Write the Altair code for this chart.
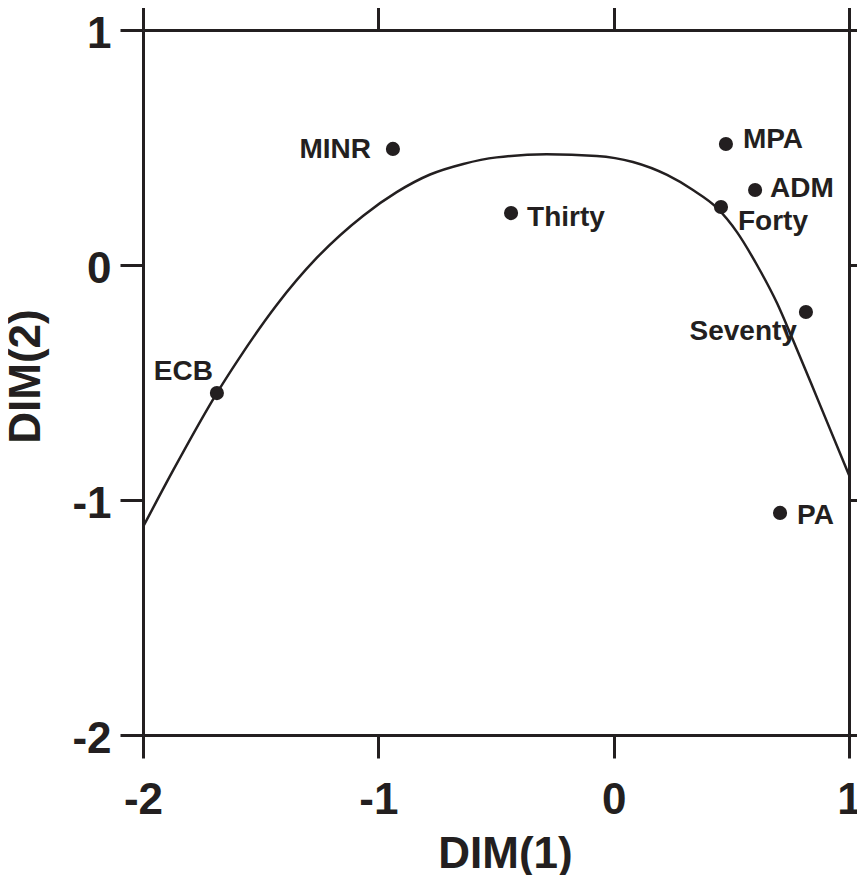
import altair as alt
import pandas as pd

# ---- data ----
names = ["MINR", "Thirty", "ECB", "MPA", "ADM", "Forty", "Seventy", "PA"]
dim1 = [-0.938, -0.436, -1.686, 0.477, 0.601, 0.456, 0.817, 0.707]
dim2 = [0.494, 0.221, -0.545, 0.515, 0.319, 0.247, -0.200, -1.055]

curve_x = [-2.0, -1.871, -1.686, -1.60, -1.432, -1.262, -1.064, -0.922, -0.780,
           -0.639, -0.497, -0.285, -0.072, 0.082, 0.227, 0.337, 0.439, 0.524,
           0.609, 0.694, 0.762, 0.868, 1.0]
curve_y = [-1.115, -0.872, -0.545, -0.41, -0.170, 0.030, 0.210, 0.310, 0.385,
           0.430, 0.458, 0.471, 0.464, 0.438, 0.383, 0.319, 0.243, 0.140,
           0.0, -0.162, -0.319, -0.574, -0.894]

ticks = [-2, -1, 0, 1]

pts = pd.DataFrame({"name": names, "d1": dim1, "d2": dim2})
crv = pd.DataFrame({"d1": curve_x, "d2": curve_y})

INK = "#231f20"
FONT = "Liberation Sans"

xs = alt.Scale(domain=[-2, 1], nice=False, zero=False)
ys = alt.Scale(domain=[-2, 1], nice=False, zero=False)

common_axis = dict(values=ticks, tickSize=23, tickWidth=3, tickColor=INK,
                   domainWidth=3, domainColor=INK, grid=False,
                   labelFont=FONT, labelFontSize=44, labelFontWeight="bold",
                   labelColor=INK, titleFont=FONT, titleFontSize=44,
                   titleFontWeight="bold", titleColor=INK,
                   labelExpr="'' + datum.value")

x_bottom = alt.Axis(orient="bottom", title="DIM(1)", labelPadding=20,
                    titlePadding=10, titleX=362, labelFlush=False, **common_axis)
y_left = alt.Axis(orient="left", title="DIM(2)", labelPadding=9,
                  titlePadding=23, titleY=346, labelOffset=4, labelFlush=False,
                  **common_axis)
x_top = alt.Axis(orient="top", labels=False, title=None, values=ticks,
                 tickSize=23, tickWidth=3, tickColor=INK, domainWidth=3,
                 domainColor=INK, grid=False)
y_right = alt.Axis(orient="right", labels=False, title=None, values=ticks,
                   tickSize=23, tickWidth=3, tickColor=INK, domainWidth=3,
                   domainColor=INK, grid=False)

points = alt.Chart(pts).mark_circle(size=200, opacity=1, color=INK).encode(
    x=alt.X("d1:Q", scale=xs, axis=x_bottom),
    y=alt.Y("d2:Q", scale=ys, axis=y_left),
)

curve = alt.Chart(crv).mark_line(color=INK, strokeWidth=2.5,
                                 interpolate="monotone", clip=True).encode(
    x=alt.X("d1:Q", scale=xs, axis=x_top),
    y=alt.Y("d2:Q", scale=ys, axis=y_right),
    order="d1:Q",
)

# label placement (style), per label: align, dx, dy
label_style = {
    "MINR": ("right", -22, 1),
    "Thirty": ("left", 16, 5),
    "ECB": ("right", -4, -21),
    "MPA": ("left", 17, -4),
    "ADM": ("left", 15, -1),
    "Forty": ("left", 17, 15),
    "Seventy": ("right", -9, 20),
    "PA": ("left", 17, 3),
}

text_layers = []
for n in names:
    a, dx, dy = label_style[n]
    text_layers.append(
        alt.Chart(pts).transform_filter(alt.datum.name == n).mark_text(
            align=a, baseline="middle", dx=dx, dy=dy, font=FONT,
            fontSize=28, fontWeight="bold", color=INK
        ).encode(
            x=alt.X("d1:Q", scale=xs, axis=None),
            y=alt.Y("d2:Q", scale=ys, axis=None),
            text="name:N",
        )
    )

chart = alt.layer(curve, points, *text_layers).resolve_axis(
    x="independent", y="independent"
).properties(
    width=706, height=705,
    autosize=alt.AutoSizeParams(type="none"),
    padding={"left": 135, "top": 22, "right": 8, "bottom": 140},
).configure_view(stroke=None).configure(background="white")

chart.save("out.html", embed_options={"renderer": "svg", "actions": False})
